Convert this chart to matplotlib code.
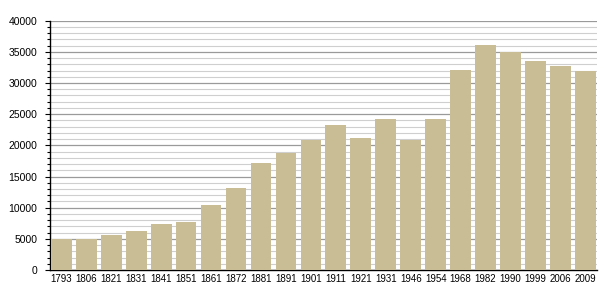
import matplotlib
matplotlib.use("Agg")
import matplotlib.pyplot as plt
from matplotlib.ticker import MultipleLocator

years = ["1793", "1806", "1821", "1831", "1841", "1851", "1861", "1872", "1881", "1891",
         "1901", "1911", "1921", "1931", "1946", "1954", "1968", "1982", "1990", "1999",
         "2006", "2009"]
population = [4950, 4900, 5620, 6260, 7390, 7760, 10440, 13220, 17190, 18850,
              20880, 23290, 21200, 24260, 20880, 24260, 32130, 36140, 34970, 33570,
              32770, 31970]

plt.rcParams['font.family'] = ['Liberation Sans', 'DejaVu Sans']

fig = plt.figure(figsize=(6.05, 3.0), dpi=100)
ax = fig.add_axes([50/605, 0.1, 547/605, 249.3/300])

x = list(range(len(years)))
ax.bar(x, population, width=0.83, color='#c9bd95', zorder=3)

ax.set_ylim(0, 40000)
ax.set_xlim(-0.454, len(years) - 1 + 0.454 + 0.01)
ax.yaxis.set_major_locator(MultipleLocator(5000))
ax.yaxis.set_minor_locator(MultipleLocator(1000))
ax.grid(which='major', axis='y', color='#9a9a9a', linewidth=0.9, zorder=1)
ax.grid(which='minor', axis='y', color='#cfcfcf', linewidth=0.8, zorder=1)
ax.set_xticks(x)
ax.set_xticklabels(years)
ax.tick_params(axis='x', length=0, labelsize=7, pad=3)
ax.tick_params(axis='y', which='major', length=3.6, width=0.8, labelsize=7.5, pad=5.5)
ax.tick_params(axis='y', which='minor', length=2.2, width=0.8)
for s in ['top', 'right']:
    ax.spines[s].set_visible(False)
ax.spines['left'].set_linewidth(1.0)
ax.spines['bottom'].set_linewidth(1.0)

fig.savefig("out.png", dpi=100)
